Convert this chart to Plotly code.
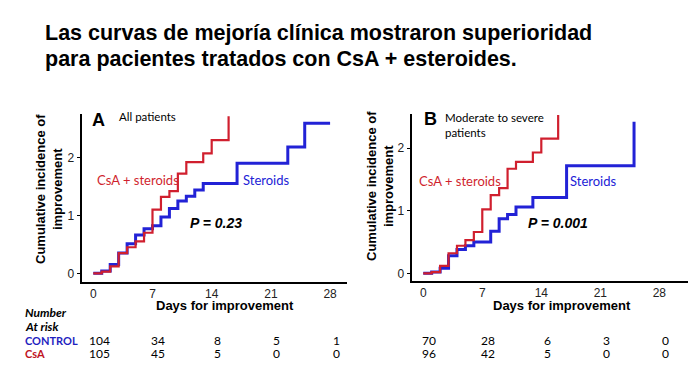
import plotly.graph_objects as go

# page body has an 8px margin; the figure is sized to fit the 700x386 window
OFF = 8
W, H = 700 - OFF, 386 - OFF

# ---------------- data ----------------
tick_days = [0, 7, 14, 21, 28]
y_ticks = [0, 1, 2]

# Panel A: all patients
a_csa_days = [0, 1, 2, 3, 4, 5, 6, 7, 8, 9, 10, 11, 13, 14, 16]
a_csa_vals = [0, 0.03, 0.12, 0.35, 0.45, 0.55, 0.70, 1.10, 1.32, 1.42, 1.72, 1.92, 2.07, 2.30, 2.71]
a_ster_days = [0, 1, 2, 3, 4, 5, 6, 7, 8, 9, 10, 11, 12, 13, 17, 23, 25, 28]
a_ster_vals = [0, 0.04, 0.15, 0.35, 0.51, 0.66, 0.77, 0.82, 0.97, 1.12, 1.25, 1.33, 1.44, 1.55, 1.90, 2.18, 2.59, 2.59]

# Panel B: moderate to severe patients
b_csa_days = [0, 1, 2, 3, 4, 5, 6, 7, 8, 9, 10, 11, 13, 14, 16]
b_csa_vals = [0, 0.02, 0.12, 0.32, 0.44, 0.53, 0.66, 1.02, 1.25, 1.36, 1.67, 1.78, 1.93, 2.15, 2.53]
b_ster_days = [0, 1, 2, 3, 4, 5, 6, 8, 9, 10, 11, 13, 17, 25]
b_ster_vals = [0, 0.02, 0.08, 0.28, 0.38, 0.44, 0.50, 0.67, 0.87, 0.94, 1.06, 1.21, 1.72, 2.42]

# Number at risk
risk_a_control = [104, 34, 8, 5, 1]
risk_a_csa = [105, 45, 5, 0, 0]
risk_b_control = [70, 28, 6, 3, 0]
risk_b_csa = [96, 42, 5, 0, 0]

RED = "#d01f2e"
BLUE = "#2222d6"
SANS = "Liberation Sans, Arial, sans-serif"
CAL = "Lato, Carlito, Calibri, sans-serif"


def px(x):
    return (x - OFF) / W


def py(y):
    return 1 - (y - OFF) / H


fig = go.Figure()

for days, vals, color, lw, xa, ya in [
    (a_ster_days, a_ster_vals, BLUE, 3.0, "x", "y"),
    (a_csa_days, a_csa_vals, RED, 2.2, "x", "y"),
    (b_ster_days, b_ster_vals, BLUE, 3.0, "x2", "y2"),
    (b_csa_days, b_csa_vals, RED, 2.2, "x2", "y2"),
]:
    fig.add_trace(go.Scatter(x=days, y=vals, mode="lines", line=dict(color=color, width=lw, shape="hv"),
                             xaxis=xa, yaxis=ya, showlegend=False, hoverinfo="skip"))

axis_common = dict(showline=True, linecolor="black", linewidth=1.5, showgrid=False, zeroline=False,
                   tickfont=dict(family=SANS, size=12, color="#222"))

fig.update_layout(
    width=W, height=H, margin=dict(l=0, r=0, t=0, b=0),
    paper_bgcolor="white", plot_bgcolor="white", showlegend=False,
    xaxis=dict(domain=[px(82.3), px(347)], range=[-1.3, 30], tickvals=tick_days, ticks="",
               anchor="y", **axis_common),
    yaxis=dict(domain=[py(281.7), py(114)], range=[-0.145, 2.75], tickvals=y_ticks, ticks="outside",
               ticklen=4, tickcolor="black", anchor="x", **axis_common),
    xaxis2=dict(domain=[px(412.3), px(688)], range=[-1.3, 31.4], tickvals=tick_days, ticks="",
                anchor="y2", **axis_common),
    yaxis2=dict(domain=[py(281), py(114)], range=[-0.123, 2.545], tickvals=y_ticks, ticks="outside",
                ticklen=4, tickcolor="black", anchor="x2", **axis_common),
)

ann = []


def text(x, y, s, size, color="black", family=SANS, xanchor="center", angle=0, xref="paper"):
    ann.append(dict(x=x, y=y, xref=xref, yref="paper", text=s, showarrow=False, xanchor=xanchor,
                    yanchor="middle", textangle=angle, font=dict(family=family, size=size, color=color)))


# Title
text(px(43), py(33), "<b>Las curvas de mejoría clínica mostraron superioridad</b>", 21.5, xanchor="left")
text(px(43), py(59), "<b>para pacientes tratados con CsA + esteroides.</b>", 21.5, xanchor="left")

# Panel A
text(px(98), py(120), "<b>A</b>", 18)
text(px(117), py(116), "All patients", 11.5, family=CAL, xanchor="left")
text(px(95), py(180), "CsA + steroids", 13, color=RED, family=CAL, xanchor="left")
text(px(241), py(180), "Steroids", 13, color=BLUE, family=CAL, xanchor="left")
text(px(188), py(223), "<b><i>P = 0.23</i></b>", 14, xanchor="left")
text(px(49), py(189), "<b>Cumulative incidence of<br>improvement</b>", 13, angle=-90)
text(px(225), py(305), "<b>Days for improvement</b>", 13)

# Panel B
text(px(430), py(119), "<b>B</b>", 18)
text(px(443), py(117), "Moderate to severe", 11.5, family=CAL, xanchor="left")
text(px(443), py(132), "patients", 11.5, family=CAL, xanchor="left")
text(px(417), py(181), "CsA + steroids", 13, color=RED, family=CAL, xanchor="left")
text(px(568), py(181), "Steroids", 13, color=BLUE, family=CAL, xanchor="left")
text(px(526), py(223), "<b><i>P = 0.001</i></b>", 14, xanchor="left")
text(px(380), py(186), "<b>Cumulative incidence of<br>improvement</b>", 13, angle=-90)
text(px(562), py(305), "<b>Days for improvement</b>", 13)

# At-risk table
text(px(23), py(312), "<b><i>Number</i></b>", 12, family=CAL, xanchor="left")
text(px(23), py(326), "<b><i>At risk</i></b>", 12, family=CAL, xanchor="left")
text(px(23), py(340), "<b>CONTROL</b>", 11, color="#1f1fc0", family=CAL, xanchor="left")
text(px(23), py(353), "<b>CsA</b>", 11, color="#c0141e", family=CAL, xanchor="left")

for vals, yy, xr in [(risk_a_control, 340, "x"), (risk_a_csa, 353, "x"),
                     (risk_b_control, 340, "x2"), (risk_b_csa, 353, "x2")]:
    for d, v in zip(tick_days, vals):
        text(d + 0.7, py(yy), str(v), 12, family=CAL, xref=xr)

fig.update_layout(annotations=ann)
fig.write_html("out.html")
